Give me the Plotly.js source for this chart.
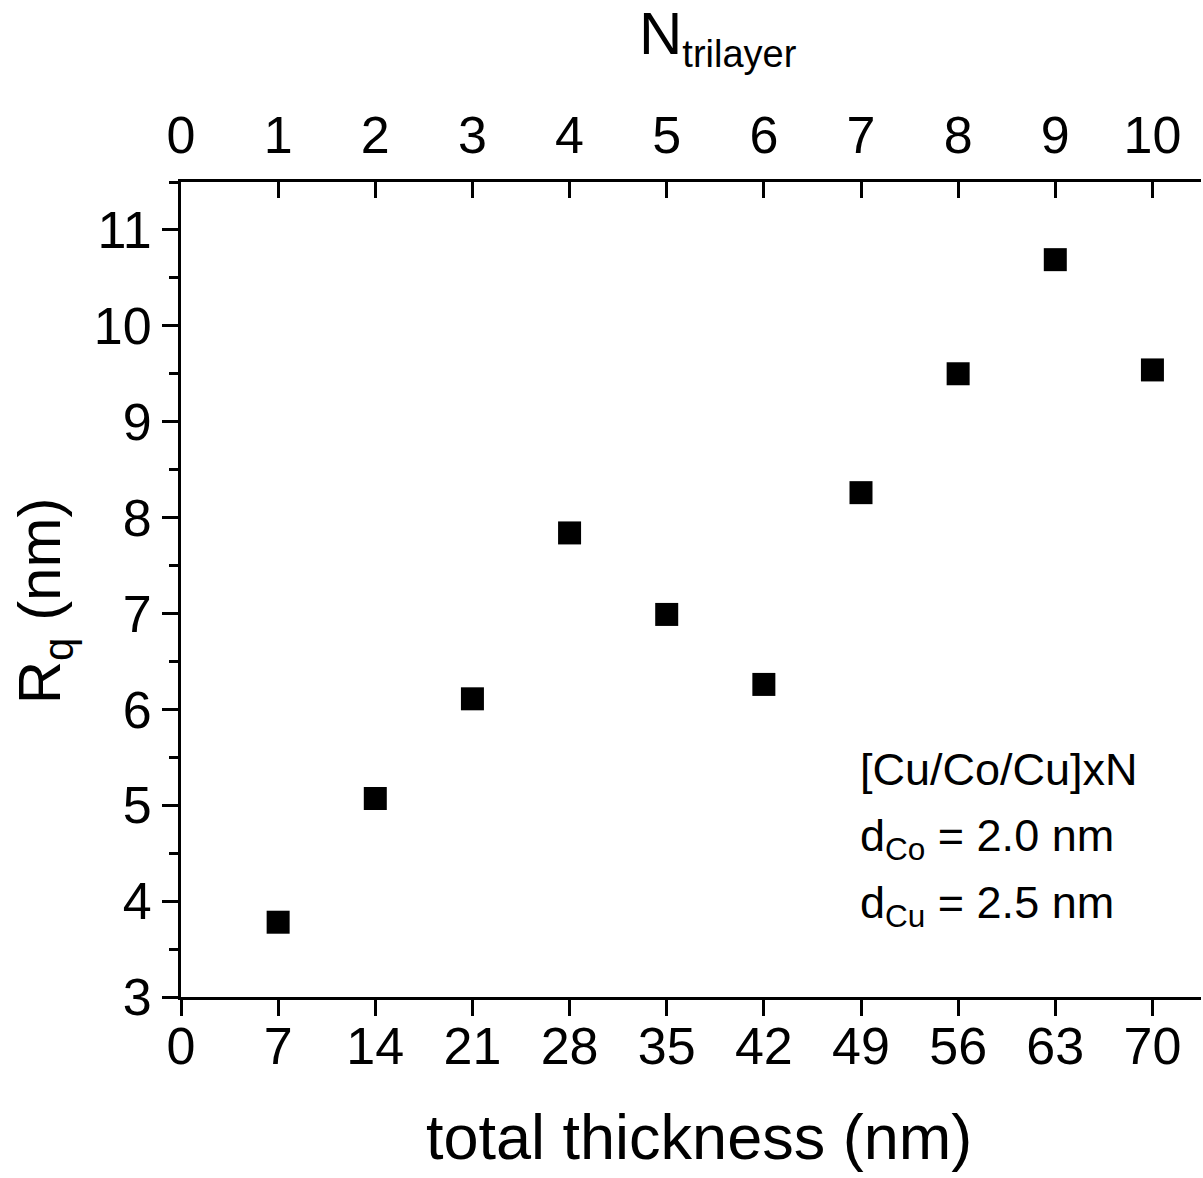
<!DOCTYPE html>
<html>
<head>
<meta charset="utf-8">
<script src="https://cdn.plot.ly/plotly-3.0.1.min.js"></script>
<style>html,body{margin:0;padding:0;background:#fff;}#chart{width:1203px;height:1178px;}</style>
</head>
<body>
<div id="chart"></div>
<script>
// Data
const thickness = [7, 14, 21, 28, 35, 42, 49, 56, 63, 70];
const nTrilayer = [1, 2, 3, 4, 5, 6, 7, 8, 9, 10];
const rq = [3.78, 5.07, 6.11, 7.84, 6.99, 6.26, 8.26, 9.50, 10.69, 9.54];
const bottomTicks = [0, 7, 14, 21, 28, 35, 42, 49, 56, 63, 70];
const topTicks = [0, 1, 2, 3, 4, 5, 6, 7, 8, 9, 10];
const yTicks = [3, 4, 5, 6, 7, 8, 9, 10, 11];
const infoLines = ['[Cu/Co/Cu]xN', 'd<sub>Co</sub> = 2.0 nm', 'd<sub>Cu</sub> = 2.5 nm'];

const FONT = 'Liberation Sans, Arial, sans-serif';
const TICKSIZE = 52;
const xMax = 73.5;

const traces = [
  {
    x: thickness, y: rq, type: 'scatter', mode: 'markers',
    marker: {symbol: 'square', size: 23, color: '#000', line: {width: 0}},
    xaxis: 'x', yaxis: 'y', showlegend: false, hoverinfo: 'skip'
  },
  {
    x: nTrilayer, y: rq, type: 'scatter', mode: 'markers',
    marker: {size: 0, opacity: 0}, xaxis: 'x2', yaxis: 'y',
    showlegend: false, hoverinfo: 'skip'
  }
];

const infoY = [0.279, 0.194, 0.112];
const annotations = infoLines.map((t, i) => ({
  xref: 'paper', yref: 'paper', x: 0.664, y: infoY[i], xanchor: 'left', yanchor: 'middle',
  align: 'left', showarrow: false, text: t,
  font: {family: FONT, size: 45, color: '#000'}
}));
annotations.push(
  {xref: 'paper', yref: 'paper', x: 0.508, y: -0.172, xanchor: 'center', yanchor: 'middle',
   showarrow: false, text: 'total thickness (nm)', font: {family: FONT, size: 63, color: '#000'}},
  {xref: 'paper', yref: 'paper', x: 0.447, y: 1.177, xanchor: 'left', yanchor: 'middle',
   showarrow: false, text: 'N<sub><span style="font-size:38px">trilayer</span></sub>', font: {family: FONT, size: 60, color: '#000'}},
  {xref: 'paper', yref: 'paper', x: -0.134, y: 0.486, xanchor: 'center', yanchor: 'middle',
   textangle: -90, showarrow: false, text: 'R<sub>q</sub> (nm)', font: {family: FONT, size: 60, color: '#000'}}
);

const layout = {
  width: 1203, height: 1178,
  paper_bgcolor: '#fff', plot_bgcolor: '#fff',
  margin: {l: 181, r: 2, t: 182, b: 181, pad: 0},
  font: {family: FONT, color: '#000', size: TICKSIZE},
  showlegend: false,
  xaxis: {
    range: [0, xMax], tickmode: 'array', tickvals: bottomTicks, ticktext: bottomTicks.map(String),
    showline: true, linecolor: '#000', linewidth: 3, mirror: false,
    ticks: 'outside', ticklen: 16, tickwidth: 3, tickcolor: '#000',
    ticklabelstandoff: -14,
    showgrid: false, zeroline: false,
    tickfont: {family: FONT, size: TICKSIZE, color: '#000'}
  },
  xaxis2: {
    overlaying: 'x', side: 'top', anchor: 'y',
    range: [0, xMax / 7], tickmode: 'array', tickvals: topTicks, ticktext: topTicks.map(String),
    showline: true, linecolor: '#000', linewidth: 3,
    ticks: 'inside', ticklen: 16, tickwidth: 3, tickcolor: '#000',
    ticklabelstandoff: 5,
    showgrid: false, zeroline: false,
    tickfont: {family: FONT, size: TICKSIZE, color: '#000'}
  },
  yaxis: {
    range: [3, 11.5], tickmode: 'array', tickvals: yTicks, ticktext: yTicks.map(String),
    showline: true, linecolor: '#000', linewidth: 3, mirror: false,
    ticks: 'outside', ticklen: 16, tickwidth: 3, tickcolor: '#000',
    minor: {dtick: 0.5, tick0: 3, ticks: 'outside', ticklen: 9, tickwidth: 3, tickcolor: '#000', showgrid: false},
    showgrid: false, zeroline: false,
    tickfont: {family: FONT, size: TICKSIZE, color: '#000'}
  },
  annotations: annotations
};

Plotly.newPlot('chart', traces, layout, {staticPlot: true, displayModeBar: false});
</script>
</body>
</html>
